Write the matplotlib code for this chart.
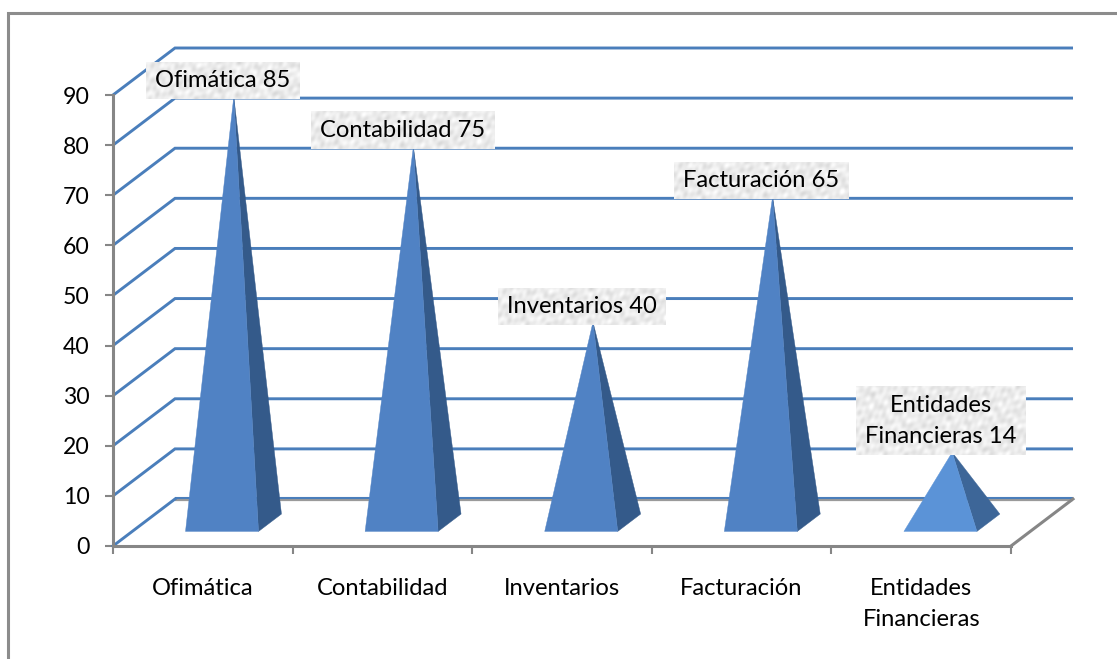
import numpy as np
import matplotlib
matplotlib.use("Agg")
import matplotlib.pyplot as plt
from matplotlib.patches import Polygon

# Chart content
categories = ["Ofimática", "Contabilidad", "Inventarios", "Facturación", "Entidades\nFinancieras"]
values = [85, 75, 40, 65, 14]
point_labels = ["Ofimática 85", "Contabilidad 75", "Inventarios 40", "Facturación 65", "Entidades\nFinancieras 14"]
value_ticks = list(range(0, 100, 10))

# Palette
GRID = "#4A7EBB"
AXIS = "#868686"
FACE = ["#5082C4", "#5082C4", "#5082C4", "#5082C4", "#5B93D7"]
SIDE = ["#345A8A", "#345A8A", "#345A8A", "#345A8A", "#3D6698"]
TEXT_SIZE = 17.1
TICK_SIZE = 16.6

W, H = 1117, 659
plt.rcParams["font.family"] = ["Lato", "DejaVu Sans"]

fig = plt.figure(figsize=(W / 100, H / 100), dpi=100)
fig.patch.set_facecolor("white")

# Outer frame: only the top and left edges are visible
fig.add_artist(plt.Line2D([8 / W, 8 / W, 1], [0, 1 - 13 / H, 1 - 13 / H], color="#8C8C8C", lw=2.2,
                          transform=fig.transFigure, solid_joinstyle="miter"))

# The axes rectangle is the front plane of the 3D box
left, right, bottom, top = 113, 1011, 546, 95
ax = fig.add_axes([left / W, 1 - bottom / H, (right - left) / W, (bottom - top) / H])
ax.set_xlim(0, 5)
ax.set_ylim(0, 90)
ax.patch.set_alpha(0)
for s in ("top", "right"):
    ax.spines[s].set_visible(False)
for s in ("left", "bottom"):
    ax.spines[s].set_color(AXIS)
    ax.spines[s].set_linewidth(2.2)

# Oblique projection: how far the back wall is shifted from the front plane
DEPTH_X = 62 / ((right - left) / 5)
DEPTH_Y = 47 / ((bottom - top) / 90)
PX_Y = (bottom - top) / 90


def project(cat, val, depth):
    return cat + depth * DEPTH_X, val + depth * DEPTH_Y


# Gridlines run along the side wall and then across the back wall
for v in value_ticks:
    x0, y0 = project(0, v, 0)
    x1, y1 = project(0, v, 1)
    x2, y2 = project(5, v, 1)
    if v == 0:
        ax.plot([x1, x2], [y1 - 0.25, y2 - 0.25], color="#9A9A9A", lw=1.6, clip_on=False, zorder=1.5,
                solid_capstyle="butt")
        ax.plot([x1, x2], [y1 + 0.1, y2 + 0.1], color=GRID, lw=1.5, clip_on=False, zorder=1.6,
                solid_capstyle="butt")
        ax.plot([x0, x1], [y0, y1], color=GRID, lw=2.1, clip_on=False, zorder=2)
    else:
        ax.plot([x0, x1, x2], [y0, y1, y2], color=GRID, lw=2.1, clip_on=False, zorder=2,
                solid_joinstyle="miter", solid_capstyle="butt")

# Floor edge on the right
ax.plot(*zip(project(5, 0, 0), project(5, 0, 1)), color=AXIS, lw=2.2, clip_on=False, zorder=2)

# Ticks
ax.set_yticks(value_ticks)
ax.set_xticks(range(6))
ax.set_xticklabels([])
ax.set_xticks(np.arange(0.5, 5, 1), labels=categories, minor=True)
ax.tick_params(axis="y", length=6, width=1.5, color=AXIS, labelsize=TICK_SIZE, pad=11, labelcolor="black")
ax.tick_params(axis="x", which="major", length=6, width=1.5, color=AXIS, direction="out")
ax.tick_params(axis="x", which="minor", length=0, labelsize=TEXT_SIZE, pad=23, labelcolor="black")
for lbl in ax.get_xminorticklabels():
    lbl.set_linespacing(1.6)
    lbl.set_verticalalignment("top")

# Square pyramids standing on the floor
HALF_W = 36.5 / ((right - left) / 5)
FRONT, BACK, MID = 0.31, 0.68, 0.5
for i, v in enumerate(values):
    c = i + 0.5
    fl = project(c - HALF_W, 0, FRONT)
    fr = project(c + HALF_W, 0, FRONT)
    br = project(c + HALF_W, 0, BACK)
    apex = project(c, v, MID)
    ax.add_patch(Polygon([fr, br, apex], closed=True, fc=SIDE[i], ec=SIDE[i], lw=0.3, zorder=3, clip_on=False))
    ax.add_patch(Polygon([fl, fr, apex], closed=True, fc=FACE[i], ec=FACE[i], lw=0.3, zorder=3.1, clip_on=False))

# Mottled stone fill behind the point labels, built from layered sine waves
yy, xx = np.mgrid[0:140, 0:280]
stone = np.zeros(xx.shape, dtype=float)
for fx, fy, ph in [(0.31, 0.23, 0.4), (0.17, -0.29, 1.9), (0.43, 0.37, 3.1), (-0.53, 0.47, 0.7),
                   (0.71, 0.19, 2.3), (0.11, 0.61, 5.2), (-0.23, 0.83, 4.1), (0.97, -0.41, 1.3)]:
    stone += np.sin(fx * xx + fy * yy + ph + 1.3 * np.sin(0.07 * xx - 0.05 * yy))
stone = np.clip(0.925 + 0.013 * stone, 0.82, 1.0)

fig.canvas.draw()
renderer = fig.canvas.get_renderer()
to_data = ax.transData.inverted()
for i, (v, lab) in enumerate(zip(values, point_labels)):
    cx = project(i + 0.5, 0, 0.32)[0]
    ay = project(0, v, MID)[1] - 2.6 / PX_Y
    t = ax.text(cx, ay, lab, ha="center", va="bottom", fontsize=TEXT_SIZE, color="black", zorder=6,
                clip_on=False, linespacing=1.6)
    ext = t.get_window_extent(renderer)
    padx, pady = 9, 8
    x0, y0 = to_data.transform((ext.x0 - padx, ext.y0))
    x1, y1 = to_data.transform((ext.x1 + padx, ext.y1 + 2 * pady))
    pw, ph = int(ext.width + 2 * padx), int(ext.height + 2 * pady)
    ax.imshow(stone[:ph, :pw], cmap="gray", vmin=0, vmax=1, extent=(x0, x1, y0, y1), origin="lower",
              aspect="auto", zorder=5, clip_on=False, interpolation="bilinear")
    t.set_y(ay + pady / PX_Y)

ax.set_xlim(0, 5)
ax.set_ylim(0, 90)

fig.savefig("out.png", dpi=100)
